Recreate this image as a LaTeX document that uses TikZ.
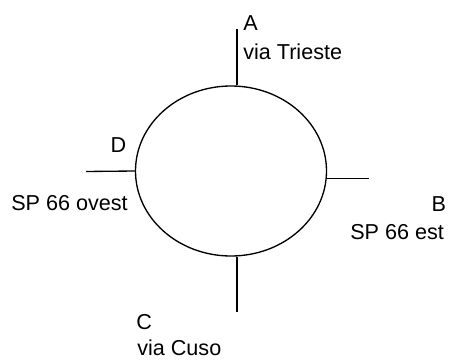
\documentclass[tikz,border=0pt]{standalone}
\usepackage{fontspec}
\setmainfont{Liberation Sans}
\usetikzlibrary{shapes.geometric}
\begin{document}
\begin{tikzpicture}[x=0.75pt,y=-0.75pt,
  road/.style={line width=1pt},
  lbl/.style={anchor=base west,inner sep=0pt,font=\fontsize{16.2}{19}\selectfont}]
\useasboundingbox (0,0) rectangle (449,360);
% roundabout
\node[ellipse,draw,road,minimum width=143.25pt,minimum height=127.5pt,inner sep=0pt] (ring) at (231,171) {};
% free ends of the four arms
\coordinate (aend) at (237,29);
\coordinate (bend) at (369,178.5);
\coordinate (cend) at (237,312);
\coordinate (dend) at (86,171.5);
\draw[road] (ring.north -| aend) -- (aend);
\draw[road] (bend -| ring.east) -- (bend);
\draw[road] (ring.south -| cend) -- (cend);
\draw[road] (ring.west) -- (dend);
% arm labels
\node[lbl] (la) at (243,31) {A};
\node[lbl] (lat) at (243,59.5) {via Trieste};
\node[lbl] (lb) at (431.3,211) {B};
\node[lbl] (lbt) at (350,239) {SP 66 est};
\node[lbl] (lc) at (136,329) {C};
\node[lbl] (lct) at (137,355) {via Cuso};
\node[lbl] (ld) at (110.3,152) {D};
\node[lbl] (ldt) at (11,210) {SP 66 ovest};
\end{tikzpicture}
\end{document}
